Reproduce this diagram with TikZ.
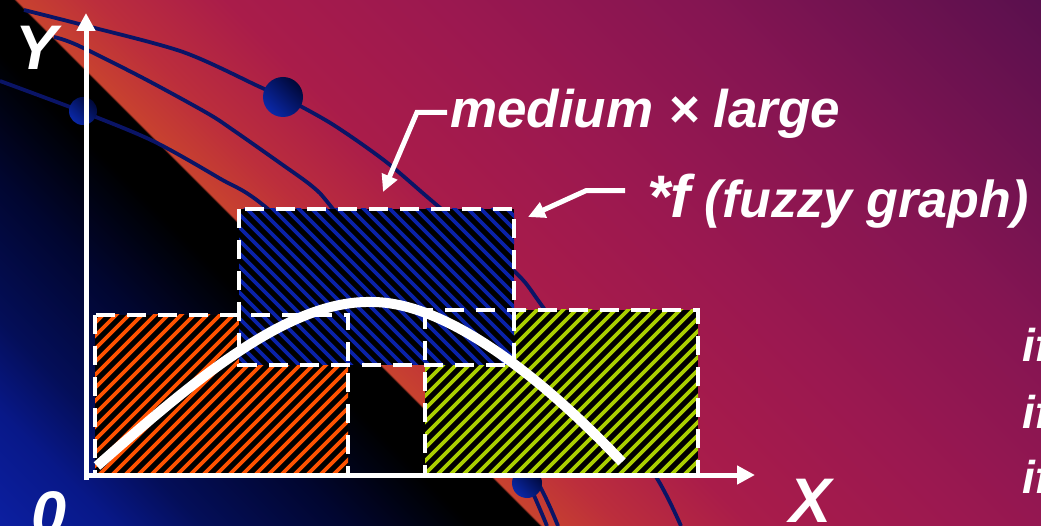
\documentclass[tikz,border=0pt]{standalone}
\usepackage{fontspec}
\setsansfont{Liberation Sans}
\usepackage{xcolor}
\usetikzlibrary{arrows.meta,positioning}

\definecolor{bgA}{HTML}{0C1FA0}
\definecolor{bgB}{HTML}{081888}
\definecolor{bgC}{HTML}{040E58}
\definecolor{bgK}{HTML}{010630}
\definecolor{bgD}{HTML}{000000}
\definecolor{bgE}{HTML}{C8422F}
\definecolor{bgF}{HTML}{BC2E3C}
\definecolor{bgG}{HTML}{A91C4A}
\definecolor{bgH}{HTML}{9B1850}
\definecolor{bgI}{HTML}{851552}
\definecolor{bgJ}{HTML}{5A104E}
\definecolor{hatchorange}{HTML}{FF5200}
\definecolor{hatchblue}{HTML}{0A22A8}
\definecolor{hatchgreen}{HTML}{AACF00}
\definecolor{wirecol}{HTML}{0A1466}
\definecolor{ballhi}{HTML}{0A28A8}
\definecolor{balllo}{HTML}{000838}

\pgfdeclarehorizontalshading{slidebg}{100bp}{color(0bp)=(bgA); color(14.6bp)=(bgA);
  color(19.6bp)=(bgB); color(23.8bp)=(bgC); color(30.2bp)=(bgK); color(35.9bp)=(bgD);
  color(38.95bp)=(bgD); color(39.05bp)=(bgE); color(42.6bp)=(bgF); color(48.6bp)=(bgG);
  color(58.5bp)=(bgH); color(69.8bp)=(bgI); color(85.4bp)=(bgJ); color(100bp)=(bgJ)}

\tikzset{
  stripe/.style={line width=3.6pt,#1},
  setbox/.style={white,line width=4pt,dash pattern=on 19pt off 12pt},
  lbl/.style={text=white,inner sep=0pt,font=\sffamily\bfseries\itshape\fontsize{#1}{#1}\selectfont}
}

\begin{document}
\begin{tikzpicture}[x=1pt,y=-1pt,
  axis/.style={white,line width=5pt,-{Triangle[length=18pt,width=18pt]}},
  pointer/.style={white,line width=5pt,-{Triangle[length=17pt,width=16pt]}},
  wire/.style={wirecol,line width=3.8pt},
  bead/.style={shading=axis,top color=ballhi,bottom color=balllo,shading angle=135},
  bell/.style={white,line width=10pt}]
  \useasboundingbox (0,0) rectangle (1041,526);
  \clip (0,0) rectangle (1041,526);
  % slide background
  \shade[shading=slidebg,shading angle=45] (0,0) rectangle (1041,526);
  % wires and beads
  \draw[wire] plot[smooth,tension=0.5] coordinates {(24,10) (83,25) (183,52) (260,87) (283,97)
    (332,124) (385,161) (432,201) (513,270) (540,303) (600,390) (658,480) (681,526)};
  \draw[wire] plot[smooth,tension=0.5] coordinates {(54,37) (77,45) (143,78) (207,113) (233,130)
    (280,163) (313,187) (333,209) (420,320) (480,400) (522,470) (547,526)};
  \draw[wire] plot[smooth,tension=0.5] coordinates {(0,81) (83,112) (153,141) (219,178) (268,209)
    (400,330) (470,410) (530,470) (558,526)};
  \shade[bead] (283,97) circle[radius=20];
  \shade[bead] (83,111) circle[radius=14];
  \shade[bead] (527,483) circle[radius=15];
  % small block, orange
  \begin{scope}
    \clip (95,315) rectangle (348,475);
    \fill[black] (95,315) rectangle (348,475);
    \foreach \x in {-75,-62,...,348}
      \draw[stripe=hatchorange] (\x,480) -- ++(175,-175);
  \end{scope}
  % large block, green
  \begin{scope}
    \clip (425,310) rectangle (698,475);
    \fill[black] (425,310) rectangle (698,475);
    \foreach \x in {250,263,...,698}
      \draw[stripe=hatchgreen] (\x,480) -- ++(175,-175);
  \end{scope}
  % medium x large block, blue
  \begin{scope}
    \clip (239,209) rectangle (514,365);
    \fill[black] (239,209) rectangle (514,365);
    \foreach \x in {60,73,...,514}
      \draw[stripe=hatchblue] (\x,204) -- ++(170,170);
  \end{scope}
  \draw[setbox] (95,315) rectangle (348,475);
  \draw[setbox] (425,310) rectangle (698,475);
  \draw[setbox] (239,209) rectangle (514,365);
  % the function
  \draw[bell] (97,466) .. controls (200,375) and (290,300) .. (372,302)
    .. controls (440,302) and (530,365) .. (622,462);
  % axes
  \coordinate (yend) at (86,13);
  \coordinate (xend) at (755,475);
  \draw[axis] (86,480) -- (yend);
  \draw[axis] (84,475) -- (xend);
  \node[lbl=63,anchor=base west] (ylab) at (15,70) {Y};
  \node[lbl=63,anchor=base west] (xlab) at (789,522) {X};
  \node[lbl=63,anchor=base west] (zero) at (31,535) {0};
  % labels with pointers
  \node[lbl=53,anchor=base west] (mxl) at (450,128) {medium × large};
  \node[lbl=52,anchor=base west] (fzg) at (647,218) {{\fontsize{60}{60}\selectfont *f} (fuzzy graph)};
  \coordinate (mtip) at (383,192);
  \coordinate (ftip) at (528,217);
  \draw[pointer] ([xshift=-3pt,yshift=2pt]mxl.west) -- ++(-30,0) -- (mtip);
  \draw[pointer] ([xshift=-22pt,yshift=11pt]fzg.west) -- ++(-39,0) -- (ftip);
  % rules at the right edge
  \node[lbl=46,anchor=base west] (ifa) at (1022,362) {if};
  \node[lbl=46,anchor=base west] (ifb) at (1022,428) {if};
  \node[lbl=46,anchor=base west] (ifc) at (1022,493) {if};
\end{tikzpicture}
\end{document}
